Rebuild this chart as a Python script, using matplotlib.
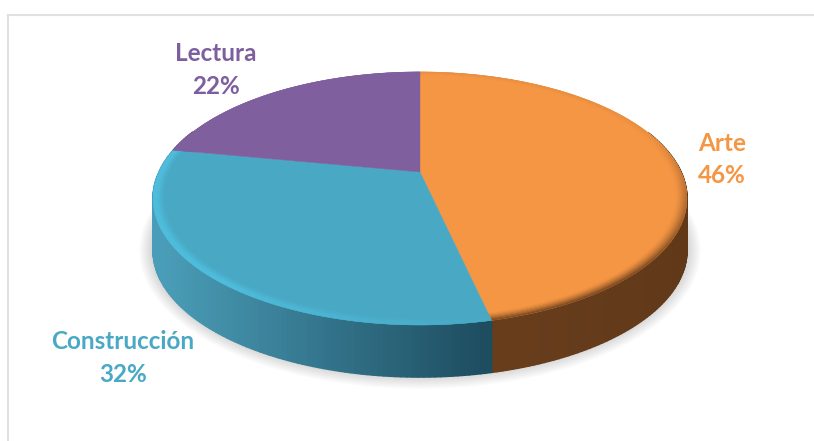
import numpy as np
import matplotlib
matplotlib.use('Agg')
import matplotlib.pyplot as plt
from matplotlib.collections import PolyCollection
from matplotlib.colors import to_rgb

# Datos
labels = ['Arte', 'Construcción', 'Lectura']
values = np.array([46.5, 31.5, 22])
colors = ['#F59644', '#49A8C4', '#7F5F9E']
text_colors = ['#F59644', '#49A9C5', '#7D5FA0']
side_colors = ['#663C1B', '#2C6F88', '#5A4272']
label_pos = [(722, 159.5), (123, 358), (216, 70)]

# Geometria de la tarta en pixeles
cx, cy = 420, 172
a, b, k = 261, 121, 0.209
depth = 52


def project(theta, r=1.0):
    # angulo en sentido horario desde arriba, con perspectiva
    X = r * np.sin(theta)
    Y = r * np.cos(theta)
    d = 1 + k * Y
    return cx + a * X / d, cy - b * Y / d


def mix(c1, c2, t):
    c1 = np.array(to_rgb(c1))
    c2 = np.array(to_rgb(c2))
    return tuple(c1 + (c2 - c1) * t)


fig = plt.figure(figsize=(8.14, 4.41), dpi=100)
ax = fig.add_axes([0, 0, 1, 1])
ax.set_xlim(0, 814)
ax.set_ylim(441, 0)
ax.axis('off')

# Marco
ax.plot([8, 8, 814], [441, 15, 15], color='#E0E0E0', lw=1.5, solid_joinstyle='miter')

cum = np.concatenate(([0], np.cumsum(values))) / values.sum() * 2 * np.pi

# Sombra
t = np.linspace(0, 2 * np.pi, 361)
sx, sy = project(t)
mx, my = sx.mean(), sy.mean()
for grow in np.linspace(14, 0, 15):
    px = mx + (sx - mx) * (1 + grow / 267)
    py = my + (sy - my) * (1 + grow / 150) + depth - 1
    ax.fill(px, py, color='black', alpha=0.012, lw=0, zorder=1)

# Lateral
for i in range(len(values)):
    th = np.linspace(cum[i], cum[i + 1], int(np.degrees(cum[i + 1] - cum[i])) + 2)
    strips, strip_colors = [], []
    for t0, t1 in zip(th[:-1], th[1:]):
        if np.cos((t0 + t1) / 2) > 0.35:
            continue
        x0, y0 = project(t0)
        x1, y1 = project(t1)
        xm = (x0 + x1) / 2
        u = (xm - (cx - 267)) / 534
        if i == 1:
            c = mix('#4A9DB8', '#1E4D60', min(1, max(0, (u - 0.02) / 0.6)))
        elif i == 0:
            c = mix('#673D1C', '#613919', max(0, (u - 0.7) / 0.3))
        else:
            c = side_colors[i]
        strips.append([(x0, y0), (x1, y1), (x1, y1 + depth), (x0, y0 + depth)])
        strip_colors.append(c)
    # las tiras se solapan con el borde para que no se vean rayas
    if strips:
        ax.add_collection(PolyCollection(strips[::-1], facecolors=strip_colors[::-1],
                                         edgecolors=strip_colors[::-1],
                                         linewidths=1.2, zorder=2))

# Cara superior
for i in range(len(values)):
    th = np.linspace(cum[i], cum[i + 1], 200)
    x, y = project(th)
    ax.fill(np.r_[cx, x], np.r_[cy, y], color=colors[i], lw=0.3, zorder=3)

# Bisel del borde
rings = np.linspace(0.955, 1.0, 9)
quads, quad_colors = [], []
for i in range(len(values)):
    th = np.linspace(cum[i], cum[i + 1], int(np.degrees(cum[i + 1] - cum[i])) + 2)
    for t0, t1 in zip(th[:-1], th[1:]):
        tm = (t0 + t1) / 2
        for r0, r1 in zip(rings[:-1], rings[1:]):
            x00, y00 = project(t0, r0)
            x01, y01 = project(t1, r0)
            x10, y10 = project(t1, r1)
            x11, y11 = project(t0, r1)
            s = (r0 - rings[0]) / (rings[-1] - rings[0])
            if i == 1:
                # brillo que se apaga hacia la union con el naranja
                w = np.clip((np.degrees(tm) - 165) / 55, 0.12, 1)
                c = mix(colors[i], '#4FBEDD', min(1, s * 1.5) * w)
            elif i == 0:
                front = max(0, -np.cos(tm) * 0.9 + 0.25)
                c = mix(colors[i], '#663C1B', s ** 1.5 * min(1, front + 0.1))
            else:
                c = colors[i]
            quads.append([(x00, y00), (x01, y01), (x10, y10), (x11, y11)])
            quad_colors.append(c)
ax.add_collection(PolyCollection(quads, facecolors=quad_colors, edgecolors=quad_colors,
                                 linewidths=0.3, zorder=4))

# Etiquetas
for name, val, col, (lx, ly) in zip(labels, values, text_colors, label_pos):
    ax.text(lx, ly, f'{name}\n{val:.0f}%', color=col, ha='center', va='center',
            fontsize=17.5, fontweight='bold', family='Lato', linespacing=1.48, zorder=5)

fig.savefig('out.png', dpi=100)
